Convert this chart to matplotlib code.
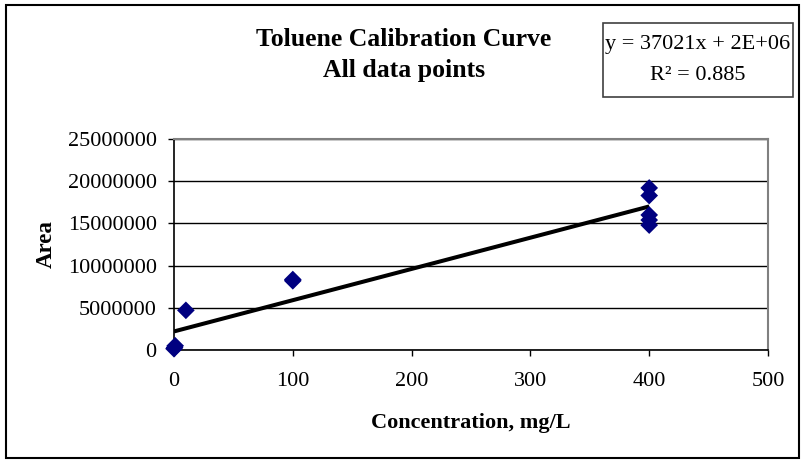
import matplotlib
matplotlib.use('agg')
import matplotlib.pyplot as plt
from matplotlib.patches import Rectangle
from matplotlib.ticker import FuncFormatter
import numpy as np

# data
conc = [0, 0.5, 1, 10, 100, 100, 400, 400, 400, 400, 400]
area = [150000, 300000, 500000, 4700000, 8200000, 8350000,
        19200000, 18300000, 16000000, 15400000, 14800000]

# trendline as reported in the chart
slope = 37021
intercept = 2200000
r2 = 0.885
fit_x = [0, 400]

x_ticks = [0, 100, 200, 300, 400, 500]
y_ticks = [0, 5000000, 10000000, 15000000, 20000000, 25000000]

plt.rcParams['font.family'] = ['Liberation Serif', 'DejaVu Serif']

fig = plt.figure(figsize=(8.04, 4.61), dpi=100)
W, H = 804, 461
ax = fig.add_axes([174 / W, 1 - 350 / H, (768 - 174) / W, (350 - 139) / H])

ax.plot(np.array(fit_x), slope * np.array(fit_x) + intercept, color='black', lw=2.9,
        zorder=3, solid_capstyle='butt')
ax.scatter(conc, area, marker='D', s=9.0 ** 2, color='#000080', edgecolors='none',
           zorder=4, clip_on=False)

ax.set_xlim(0, 500)
ax.set_ylim(0, 25000000)
ax.set_xticks(x_ticks)
ax.set_yticks(y_ticks)
ax.yaxis.set_major_formatter(FuncFormatter(lambda v, p: f"{int(v)}"))
ax.tick_params(labelsize=16, direction='out', length=4.5, width=1, color='black')
ax.tick_params(axis='x', pad=11)
ax.tick_params(axis='y', pad=8)
ax.grid(axis='y', color='black', lw=1)
ax.set_axisbelow(True)
for s in ['top', 'right']:
    ax.spines[s].set_color('#808080')
    ax.spines[s].set_linewidth(1.5)
for s in ['left', 'bottom']:
    ax.spines[s].set_color('black')
    ax.spines[s].set_linewidth(1.2)

ax.set_xlabel('Concentration, mg/L', fontsize=16, fontweight='bold', labelpad=16)
ax.set_ylabel('Area', fontsize=16.5, fontweight='bold', labelpad=8)

fig.text(404 / W, 1 - 39 / H, 'Toluene Calibration Curve', fontsize=18.5, fontweight='bold',
         ha='center', va='center')
fig.text(404 / W, 1 - 71 / H, 'All data points', fontsize=18.5, fontweight='bold',
         ha='center', va='center')

# equation box
fig.patches.append(Rectangle((603 / W, 1 - 97 / H), (793 - 603) / W, (97 - 23) / H,
                             transform=fig.transFigure, fill=False, ec='#404040', lw=1.2))
fig.text(698 / W, 1 - 45 / H, 'y = 37021x + 2E+06', fontsize=16, ha='center', va='center')
fig.text(698 / W, 1 - 75 / H, f'R\u00b2 = {r2}', fontsize=16, ha='center', va='center')

# outer chart border
fig.patches.append(Rectangle((6 / W, 1 - 458 / H), (799 - 6) / W, (458 - 5) / H,
                             transform=fig.transFigure, fill=False, ec='black', lw=1.5))

fig.savefig('out.png', dpi=100)
